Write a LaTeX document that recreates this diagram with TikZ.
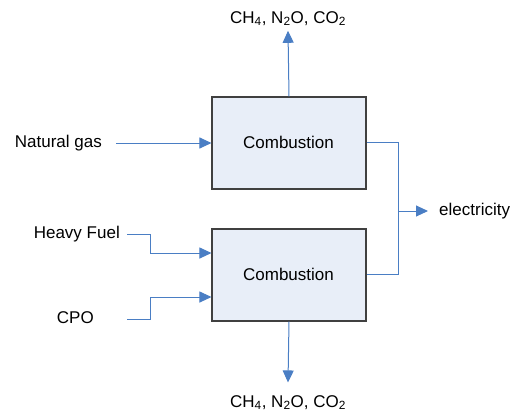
\documentclass[tikz,border=0pt]{standalone}
\usepackage{fontspec}
\setmainfont{Liberation Sans}
\usetikzlibrary{arrows.meta,calc}
\definecolor{ink}{HTML}{000000}
\definecolor{edge}{HTML}{404040}
\definecolor{flowblue}{HTML}{4A7EC4}
\definecolor{boxfill}{HTML}{E8EEF8}
\tikzset{
  every node/.style={font=\fontsize{17}{20}\selectfont, text=ink},
  unit/.style={draw=edge, fill=boxfill, line width=1.1pt, minimum width=154pt, minimum height=92pt, inner sep=0pt},
  feed/.style={inner ysep=2pt, inner xsep=7pt},
  flow/.style={draw=flowblue, line width=1pt},
  flowarr/.style={flow, -{Triangle[length=12pt, width=11pt]}},
}

\begin{document}
\begin{tikzpicture}[x=1pt, y=-1pt]
  \useasboundingbox (0,0) rectangle (513,413);

  % combustion units
  \node[unit] (top) at (289,143) {};
  \node at (288.5,142) {Combustion};
  \node[unit] (bot) at (289,275) {};
  \node at (288.5,274) {Combustion};

  % emissions
  \node[anchor=base, inner ysep=5pt] (emtop) at (288,23) {CH\textsubscript{4}, N\textsubscript{2}O, CO\textsubscript{2}};
  \node[anchor=base, inner ysep=12.5pt] (embot) at (288,407) {CH\textsubscript{4}, N\textsubscript{2}O, CO\textsubscript{2}};
  \draw[flowarr] (top.north) -- (emtop.south);
  \draw[flowarr] (bot.south) -- (embot.north);

  % fuels
  \node[feed, inner xsep=14pt, anchor=east] (gas) at (116,143) {Natural gas};
  \node[feed, anchor=east] (hfo) at (127,234) {Heavy Fuel};
  \node[feed, anchor=east, inner xsep=33pt] (cpo) at (127,318) {CPO};
  \draw[flowarr] (gas.east) -- (top.west);
  \draw[flowarr] ([yshift=-0.5]hfo.east) -- ++(23,0) |- ($(bot.west)+(0,-22)$);
  \draw[flowarr] ([yshift=-1]cpo.east) -- ++(23,0) |- ($(bot.west)+(0,22)$);

  % electricity
  \coordinate (join) at (398,211);
  \node[anchor=west, inner sep=0pt] (elec) at (439,211) {electricity};
  \draw[flow] ([yshift=1]top.east) -| (join);
  \draw[flow] ([yshift=1]bot.east) -| (join);
  \draw[flowarr] (join) -- ([xshift=-11]elec.west);
\end{tikzpicture}
\end{document}
